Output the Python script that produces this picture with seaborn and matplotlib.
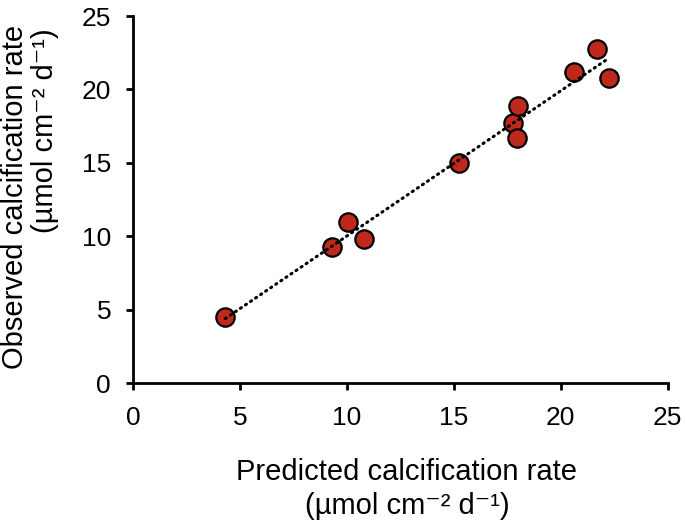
import numpy as np
import pandas as pd
import matplotlib
matplotlib.use("Agg")
import matplotlib.pyplot as plt
import seaborn as sns

# data
predicted = [4.3, 9.3, 10.05, 10.8, 15.25, 17.75, 17.95, 18.0, 20.6, 21.7, 22.25]
observed = [4.5, 9.3, 10.95, 9.85, 15.0, 17.7, 16.7, 18.9, 21.2, 22.75, 20.75]
ticks = [0, 5, 10, 15, 20, 25]

df = pd.DataFrame({"predicted": predicted, "observed": observed})

sns.set_style("ticks")
plt.rcParams["font.family"] = ["Liberation Sans", "DejaVu Sans"]
plt.rcParams["text.color"] = "black"

fig = plt.figure(figsize=(6.85, 5.23), dpi=100)
ax = fig.add_axes([0.1946, 0.2671, 0.7801, 0.7023])

sns.regplot(
    data=df, x="predicted", y="observed", ax=ax, ci=None,
    scatter_kws=dict(s=175, color="#c0281c", edgecolors="black",
                     linewidths=1.6, alpha=1, zorder=2),
    line_kws=dict(color="black", lw=2.2, linestyle=(0, (0.4, 1.6)),
                  dash_capstyle="round", zorder=3),
)

ax.set_xlim(0, 25)
ax.set_ylim(0, 25)
ax.set_xticks(ticks)
ax.set_yticks(ticks)
ax.tick_params(labelsize=19, width=2, length=5, color="black",
               labelcolor="black", pad=11)
for side in ["left", "bottom"]:
    ax.spines[side].set_linewidth(2)
    ax.spines[side].set_color("black")
sns.despine(ax=ax)
ax.set_xlabel("")
ax.set_ylabel("")

unit = "(µmol cm⁻² d⁻¹)"
fig.text(0.594, 0.083, "Predicted calcification rate", fontsize=21,
         ha="center", va="baseline")
fig.text(0.594, 0.018, unit, fontsize=21, ha="center", va="baseline")
fig.text(0.0226, 0.623, "Observed calcification rate", fontsize=21,
         rotation=90, ha="center", va="center")
fig.text(0.0664, 0.7495, unit, fontsize=21, rotation=90,
         ha="center", va="center")

fig.savefig("out.png", dpi=100)
